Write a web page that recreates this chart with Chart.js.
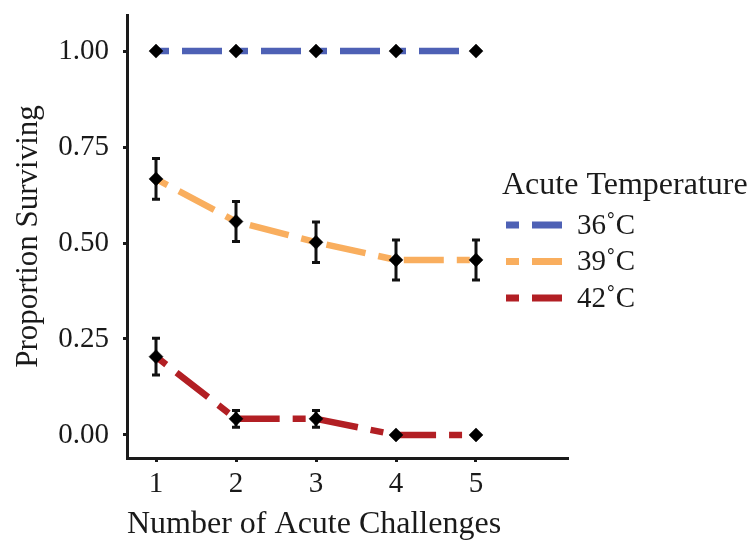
<!DOCTYPE html>
<html>
<head>
<meta charset="utf-8">
<script src="https://cdn.jsdelivr.net/npm/chart.js@4/dist/chart.umd.min.js"></script>
<style>
  html, body { margin: 0; padding: 0; background: #fff; }
  #wrap { width: 751px; height: 542px; }
</style>
</head>
<body>
<div id="wrap"><canvas id="chart" width="751" height="542"></canvas></div>
<script>
/* survival by number of acute challenges */

const challenges = [1, 2, 3, 4, 5];
const xTicks = [1, 2, 3, 4, 5];
const yTicks = [0, 0.25, 0.5, 0.75, 1];

const temps = ["36˚C", "39˚C", "42˚C"];
const colors = ["#4e61b5", "#f9ae5e", "#b21f24"];

const surv36 = [1, 1, 1, 1, 1];
const surv39 = [0.667, 0.556, 0.502, 0.456, 0.456];
const surv42 = [0.204, 0.042, 0.042, 0, 0];

const err36 = [0, 0, 0, 0, 0];
const err39 = [0.053, 0.052, 0.053, 0.052, 0.052];
const err42 = [0.048, 0.022, 0.022, 0, 0];

const series = [surv36, surv39, surv42];
const errors = [err36, err39, err42];

const SERIF = "'Liberation Serif', 'Times New Roman', serif";
const DASH = [13, 13, 40, 13];

const pts = (ys) => challenges.map((x, i) => ({ x, y: ys[i] }));

const lineSets = series.map((ys, i) => ({
  label: temps[i], data: pts(ys), showLine: true, borderColor: colors[i],
  borderWidth: 6.5, borderDash: DASH, borderCapStyle: "butt", pointRadius: 0,
  tension: 0, order: 1,
}));
const pointSets = series.map((ys, i) => ({
  label: temps[i] + " pts", data: pts(ys), showLine: false, pointStyle: "rectRot",
  pointRadius: 7, pointBackgroundColor: "#000", pointBorderColor: "#000",
  pointBorderWidth: 0.5, order: 0, errors: errors[i],
}));

// error bars go under the diamonds, over the lines
const errorBars = {
  id: "errorBars",
  beforeDatasetDraw(chart, args) {
    if (args.index !== 5) return;
    const { ctx, scales: { x, y } } = chart;
    ctx.save();
    ctx.strokeStyle = "#111";
    ctx.lineWidth = 3;
    pointSets.forEach((ds) => {
      ds.data.forEach((p, i) => {
        const e = ds.errors[i];
        if (!e) return;
        const px = x.getPixelForValue(p.x);
        const top = y.getPixelForValue(p.y + e);
        const bot = y.getPixelForValue(p.y - e);
        ctx.beginPath();
        ctx.moveTo(px, top); ctx.lineTo(px, bot);
        ctx.moveTo(px - 4, top); ctx.lineTo(px + 4, top);
        ctx.moveTo(px - 4, bot); ctx.lineTo(px + 4, bot);
        ctx.stroke();
      });
    });
    ctx.restore();
  },
};

const sideLegend = {
  id: "sideLegend",
  afterDraw(chart) {
    const ctx = chart.ctx;
    ctx.save();
    ctx.fillStyle = "#1a1a1a";
    ctx.textBaseline = "middle";
    ctx.textAlign = "left";
    ctx.font = `32px ${SERIF}`;
    ctx.fillText("Acute Temperature", 502, 186);
    ctx.font = `29px ${SERIF}`;
    lineSets.forEach((ds, i) => {
      const cy = 225 + i * 36.5;
      ctx.strokeStyle = ds.borderColor;
      ctx.lineWidth = 7;
      ctx.setLineDash(DASH);
      ctx.beginPath();
      ctx.moveTo(506, cy); ctx.lineTo(562, cy);
      ctx.stroke();
      ctx.setLineDash([]);
      ctx.fillText(ds.label, 577, cy + 1);
    });
    ctx.restore();
  },
};

const axisStyle = {
  border: { display: true, color: "#1a1a1a", width: 3 },
  grid: { drawOnChartArea: false, drawTicks: true, tickLength: 4, tickWidth: 3, color: "#1a1a1a" },
};

new Chart(document.getElementById("chart"), {
  type: "scatter",
  data: { datasets: [...lineSets, ...pointSets] },
  options: {
    responsive: false, animation: false,
    layout: { padding: { top: 15, right: 183, left: 0, bottom: 0 } },
    plugins: { legend: { display: false }, tooltip: { enabled: false } },
    scales: {
      x: {
        type: "linear", min: 0.6375, max: 6.15, ...axisStyle,
        afterBuildTicks: (s) => { s.ticks = xTicks.map((v) => ({ value: v })); },
        afterFit: (s) => { s.height = 84; s.paddingLeft = 0; s.paddingRight = 0; },
        ticks: { color: "#1a1a1a", font: { family: SERIF, size: 29 }, padding: 5, callback: (v) => String(v) },
        title: { display: true, text: "Number of Acute Challenges", align: "start", color: "#1a1a1a",
          font: { family: SERIF, size: 32 }, padding: { top: 0, bottom: -2 } },
      },
      y: {
        type: "linear", min: -0.06, max: 1.094, ...axisStyle,
        afterBuildTicks: (s) => { s.ticks = yTicks.map((v) => ({ value: v })); },
        afterFit: (s) => { s.width = 127; s.paddingTop = 0; s.paddingBottom = 0; },
        ticks: { color: "#1a1a1a", font: { family: SERIF, size: 29 }, padding: 14, callback: (v) => v.toFixed(2) },
        title: { display: true, text: "Proportion Surviving", color: "#1a1a1a",
          font: { family: SERIF, size: 31 }, padding: { top: 10, bottom: 0 } },
      },
    },
  },
  plugins: [errorBars, sideLegend],
});
</script>
</body>
</html>
